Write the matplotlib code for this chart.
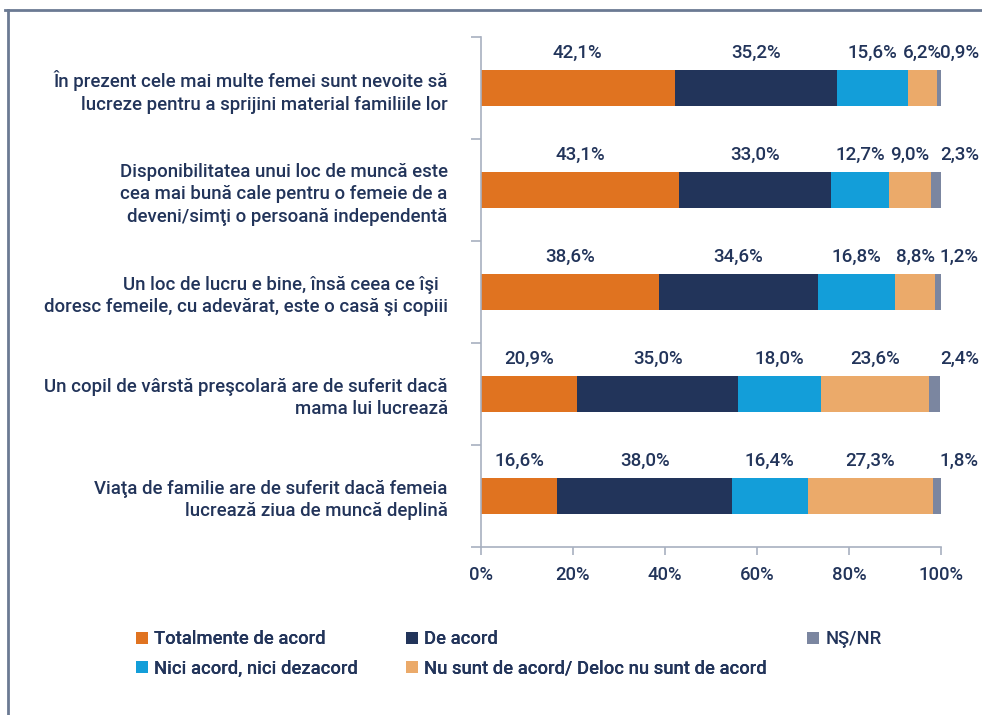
import matplotlib.pyplot as plt
from matplotlib.lines import Line2D
from matplotlib.patches import Patch
import numpy as np

plt.rcParams['font.family'] = ['Roboto', 'DejaVu Sans']
plt.rcParams['font.weight'] = 'medium'

# Statements (top to bottom) and answer shares, in %
statements = [
    "În prezent cele mai multe femei sunt nevoite să\nlucreze pentru a sprijini material familiile lor",
    "Disponibilitatea unui loc de muncă este\ncea mai bună cale pentru o femeie de a\ndeveni/simţi o persoană independentă",
    "Un loc de lucru e bine, însă ceea ce îşi  \ndoresc femeile, cu adevărat, este o casă şi copiii",
    "Un copil de vârstă preşcolară are de suferit dacă\nmama lui lucrează",
    "Viaţa de familie are de suferit dacă femeia\nlucrează ziua de muncă deplină",
]
answers = ["Totalmente de acord", "De acord", "Nici acord, nici dezacord",
           "Nu sunt de acord/ Deloc nu sunt de acord", "NŞ/NR"]
totally_agree = [42.1, 43.1, 38.6, 20.9, 16.6]
agree = [35.2, 33.0, 34.6, 35.0, 38.0]
neutral = [15.6, 12.7, 16.8, 18.0, 16.4]
disagree = [6.2, 9.0, 8.8, 23.6, 27.3]
dont_know = [0.9, 2.3, 1.2, 2.4, 1.8]

colors = ["#E07320", "#22345A", "#139ED9", "#EBAA6A", "#7B86A0"]
text_color = "#22345A"

series = [totally_agree, agree, neutral, disagree, dont_know]

fig = plt.figure(figsize=(9.82, 7.15), dpi=100)
ax = fig.add_axes([0.4898, 0.2350, 0.4684, 0.7133])

y = np.arange(len(statements))
left = np.zeros(len(statements))
for vals, c in zip(series, colors):
    vals = np.array(vals)
    ax.barh(y, vals, left=left, height=0.36, color=c)
    for i, (l, v) in enumerate(zip(left, vals)):
        xc = l + v / 2
        if c == colors[-1]:
            xc = 104.0  # last small segment: label shifted right
        ax.text(xc, i - 0.34, f"{v:.1f}%".replace(".", ","), ha="center", va="center",
                fontsize=13.5, color=text_color)
    left = left + vals

ax.set_xlim(0, 100)
ax.set_ylim(len(statements) - 0.5, -0.5)
ax.set_xticks(np.arange(0, 101, 20))
ax.set_xticklabels([f"{t}%" for t in range(0, 101, 20)], fontsize=13.3, color=text_color)
ax.set_yticks(y)
ax.set_yticklabels(statements, fontsize=13.4, color=text_color, linespacing=1.32)
ax.set_yticks(np.arange(-0.5, len(statements)), minor=True)
ax.tick_params(axis="y", which="major", length=0, pad=24)
ax.tick_params(axis="y", which="minor", length=7, color="#A8B0C0", width=1.2)
ax.tick_params(axis="x", length=6, color="#A8B0C0", width=1.2, pad=8)
for s in ["top", "right"]:
    ax.spines[s].set_visible(False)
for s in ["left", "bottom"]:
    ax.spines[s].set_color("#A8B0C0")
    ax.spines[s].set_linewidth(1.2)

handles = [Patch(facecolor=c) for c in colors]
legend_kw = dict(loc="upper left", frameon=False, fontsize=13.3, labelcolor=text_color,
                 handlelength=0.65, handleheight=0.65, handletextpad=0.35,
                 labelspacing=0.62, borderaxespad=0)
order = [0, 2, 1, 3]
leg = fig.legend([handles[i] for i in order], [answers[i] for i in order], ncol=2,
                 bbox_to_anchor=(0.1305, 0.129), columnspacing=2.6, **legend_kw)
fig.add_artist(leg)
fig.legend([handles[4]], [answers[4]], bbox_to_anchor=(0.8145, 0.129), **legend_kw)

# outer frame lines
fig.add_artist(Line2D([0.005, 1.0], [0.986, 0.986], color="#6B7A93", lw=2))
fig.add_artist(Line2D([0.008, 0.008], [0.0, 0.986], color="#6B7A93", lw=2))

fig.savefig("out.png", dpi=100)
